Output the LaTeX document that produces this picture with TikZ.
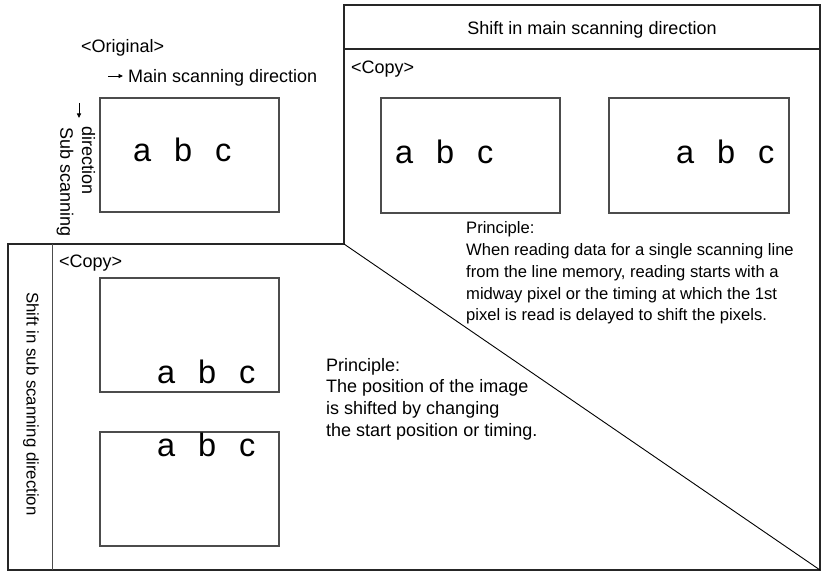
\documentclass[tikz,border=0pt]{standalone}
\usepackage{fontspec}
\setmainfont{Liberation Sans}
\usetikzlibrary{arrows.meta}
\begin{document}
\begin{tikzpicture}[x=1pt,y=-1pt,
  frame/.style={line width=1.5pt,black!85},
  pbox/.style={draw=black!70,line width=1.1pt},
  lbl/.style={inner sep=0pt,font=\fontsize{18}{21.7}\selectfont},
  txt/.style={lbl,anchor=base west},
  ptxt/.style={txt,font=\fontsize{16.6}{21.7}\selectfont},
  big/.style={inner sep=0pt,anchor=base west,font=\fontsize{32.5}{33}\selectfont},
  arr/.style={-{Triangle[length=4.5pt,width=4pt]},line width=0.9pt}]
\useasboundingbox (0,0) rectangle (822,572);
% frames
\coordinate (fA) at (344,244);
\coordinate (fB) at (344,5);
\coordinate (fC) at (820,5);
\coordinate (fD) at (820,570);
\coordinate (fE) at (8,570);
\coordinate (fF) at (8,244);
\draw[frame] (fA) -- (fB) -- (fC) -- (fD) -- (fE) -- (fF) -- cycle;
\coordinate (h1) at (344,49);
\coordinate (h2) at (820,49);
\draw[frame,line width=1.2pt] (h1) -- (h2);
\coordinate (v1) at (52,244);
\coordinate (v2) at (52,570);
\draw[line width=1pt,black!70] (v1) -- (v2);
\draw[line width=0.9pt] (fA) -- (fD);
% original
\node[txt] (orig) at (81,53) {<Original>};
\coordinate (ma1) at (108,76);
\coordinate (ma2) at (123,76);
\draw[arr] (ma1) -- (ma2);
\node[txt] (mainlbl) at (128,83) {Main scanning direction};
\coordinate (sa1) at (79,103);
\coordinate (sa2) at (79,118);
\draw[arr] (sa1) -- (sa2);
\node[lbl,rotate=-90] (subdir) at (88.5,161) {direction};
\node[lbl,rotate=-90] (subscan) at (65,182) {Sub scanning};
\draw[pbox] (100,98) rectangle (279,212);
\node[big] (oa) at (133,162) {a};
\node[big] (ob) at (174,162) {b};
\node[big] (oc) at (215,162) {c};
% main scanning shift
\node[lbl,anchor=base] (mtitle) at (592,34.5) {Shift in main scanning direction};
\node[txt] (mcopy) at (351,74) {<Copy>};
\draw[pbox] (381,98) rectangle (560,213);
\draw[pbox] (609,98) rectangle (789,213);
\node[big] (m1a) at (395,164) {a};
\node[big] (m1b) at (436,164) {b};
\node[big] (m1c) at (477,164) {c};
\node[big] (m2a) at (676,164) {a};
\node[big] (m2b) at (717,164) {b};
\node[big] (m2c) at (758,164) {c};
\node[ptxt] (mp0) at (466,234) {Principle:};
\node[ptxt] (mp1) at (466,255.7) {When reading data for a single scanning line};
\node[ptxt] (mp2) at (466,277.4) {from the line memory, reading starts with a};
\node[ptxt] (mp3) at (466,299.1) {midway pixel or the timing at which the 1st};
\node[ptxt] (mp4) at (466,320.8) {pixel is read is delayed to shift the pixels.};
% sub scanning shift
\node[lbl,rotate=-90,font=\fontsize{16.8}{20}\selectfont] (stitle) at (31,404) {Shift in sub scanning direction};
\node[txt] (scopy) at (59,268) {<Copy>};
\draw[pbox] (100,278) rectangle (279,392);
\draw[pbox] (100,432) rectangle (279,546);
\node[big] (s1a) at (157,383) {a};
\node[big] (s1b) at (198,383) {b};
\node[big] (s1c) at (239,383) {c};
\node[big] (s2a) at (157,456) {a};
\node[big] (s2b) at (198,456) {b};
\node[big] (s2c) at (239,456) {c};
\node[txt] (sp0) at (326,371) {Principle:};
\node[txt] (sp1) at (326,392.7) {The position of the image};
\node[txt] (sp2) at (326,414.4) {is shifted by changing};
\node[txt] (sp3) at (326,436.1) {the start position or timing.};
\end{tikzpicture}
\end{document}
